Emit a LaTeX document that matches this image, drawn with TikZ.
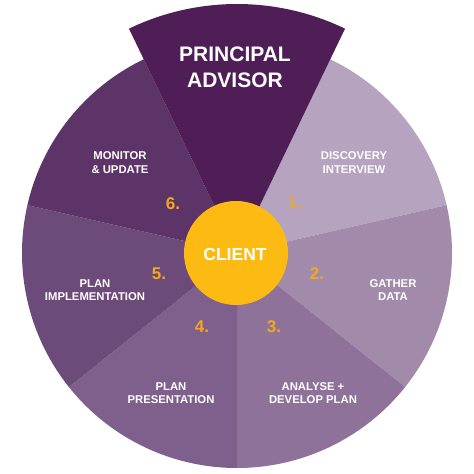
\documentclass[tikz,border=0pt]{standalone}
\usepackage{fontspec}
\setmainfont{Liberation Sans}
\definecolor{segtop}{HTML}{4F1E57}
\definecolor{segone}{HTML}{B5A3BF}
\definecolor{segtwo}{HTML}{A28AAA}
\definecolor{segthree}{HTML}{8E7299}
\definecolor{segfour}{HTML}{7F5F8B}
\definecolor{segfive}{HTML}{6C4A7A}
\definecolor{segsix}{HTML}{5C3468}
\definecolor{clientyellow}{HTML}{FDBA12}
\definecolor{numorange}{HTML}{F2A81D}
\begin{document}
\begin{tikzpicture}[x=1pt,y=1pt,
  lbl/.style={text=white,font=\fontsize{11.3}{13.3}\selectfont\bfseries,align=center,inner sep=0pt},
  numlbl/.style={text=numorange,font=\fontsize{17}{19}\selectfont\bfseries,inner sep=0pt},
  ttl/.style={text=white,font=\fontsize{21}{26}\selectfont\bfseries,align=center,inner sep=0pt}]
\useasboundingbox[fill=white] (0,0) rectangle (474,474);
\coordinate (C) at (237,221);
\def\R{215}
% six outer segments
\fill[segone]   (C) -- ++(12.857:\R) arc[start angle=12.857,end angle=64.286,radius=\R] -- cycle;
\fill[segtwo]   (C) -- ++(-38.571:\R) arc[start angle=-38.571,end angle=12.857,radius=\R] -- cycle;
\fill[segthree] (C) -- ++(-90:\R) arc[start angle=-90,end angle=-38.571,radius=\R] -- cycle;
\fill[segfour]  (C) -- ++(-141.429:\R) arc[start angle=-141.429,end angle=-90,radius=\R] -- cycle;
\fill[segfive]  (C) -- ++(167.143:\R) arc[start angle=167.143,end angle=218.571,radius=\R] -- cycle;
\fill[segsix]   (C) -- ++(115.714:\R) arc[start angle=115.714,end angle=167.143,radius=\R] -- cycle;
% top wedge
\fill[segtop]   (C) -- ++(64.286:249) arc[start angle=64.286,end angle=115.714,radius=249] -- cycle;
% client
\node[circle,fill=clientyellow,minimum size=104pt,inner sep=0pt] (client) at (236,221) {};
\node[text=white,font=\fontsize{17.5}{20}\selectfont\bfseries,inner sep=0pt] (clienttxt) at (235,220) {CLIENT};
% labels
\node[ttl] (pa) at (235,407) {PRINCIPAL\\ADVISOR};
\node[lbl] (monitor) at (120,311.5) {MONITOR\\\& UPDATE};
\node[lbl] (discovery) at (354,311.5) {DISCOVERY\\INTERVIEW};
\node[lbl] (gather) at (393,184) {GATHER\\DATA};
\node[lbl] (analyse) at (313,81) {ANALYSE +\\DEVELOP PLAN};
\node[lbl] (present) at (171,81) {PLAN\\PRESENTATION};
\node[lbl] (implement) at (95,184) {PLAN\\IMPLEMENTATION};
% numbers
\node[numlbl,opacity=0.75] (n1) at (295,271) {1.};
\node[numlbl] (n2) at (317,200) {2.};
\node[numlbl] (n3) at (274,147) {3.};
\node[numlbl] (n4) at (202,147) {4.};
\node[numlbl] (n5) at (159,200) {5.};
\node[numlbl] (n6) at (173,270) {6.};
\end{tikzpicture}
\end{document}
